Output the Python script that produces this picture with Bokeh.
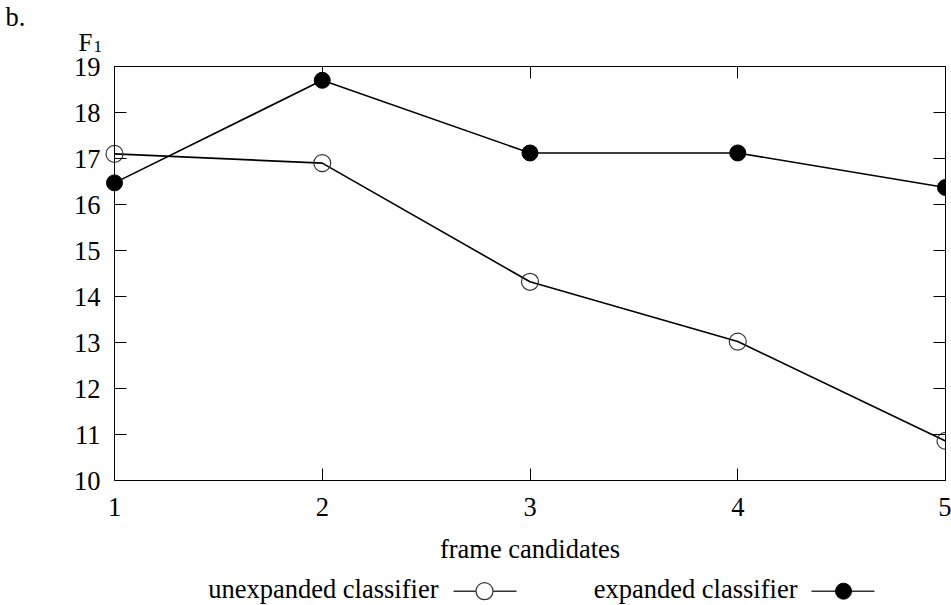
from bokeh.plotting import figure
from bokeh.models import (Range1d, LinearAxis, FixedTicker, CustomLabelingPolicy,
                          CustomJSTickFormatter)
from bokeh.layouts import column
from bokeh.embed import file_html
from bokeh.resources import INLINE

# ---- data ----
frame_candidates = [1, 2, 3, 4, 5]
unexpanded = [17.1, 16.9, 14.32, 13.02, 10.86]
expanded = [16.47, 18.7, 17.12, 17.12, 16.37]
x_ticks = [1, 2, 3, 4, 5]
y_ticks = [10, 11, 12, 13, 14, 15, 16, 17, 18, 19]
series_names = ["unexpanded classifier", "expanded classifier"]
x_title = "frame candidates"
y_title = "F"
y_title_sub = "1"
panel_tag = "b."

FONT = "Liberation Serif"
FS = "26.5px"
W = 951
BASE_FIX = 7  # text glyphs land this many px below the requested baseline

# ---- layout geometry (pixels) ----
MH = 530
box_left, box_right, box_top, box_bottom = 114, 945, 66, 480
frame_left, frame_top = 3, 5

px_per_x = (box_right - box_left) / (x_ticks[-1] - x_ticks[0])
px_per_y = (box_bottom - box_top) / (y_ticks[-1] - y_ticks[0])
x_start = x_ticks[0] - (box_left - frame_left) / px_per_x
y_end = y_ticks[-1] + (box_top - frame_top) / px_per_y

def sx(px):
    return x_ticks[0] + (px - box_left) / px_per_x

def sy(py):
    return y_ticks[0] + (box_bottom - py) / px_per_y

p = figure(width=W, height=MH, x_range=Range1d(x_start, x_ticks[-1]),
           y_range=Range1d(y_ticks[0], y_end),
           output_backend="svg", toolbar_location=None,
           min_border_left=frame_left, min_border_right=W - box_right,
           min_border_top=frame_top, min_border_bottom=MH - box_bottom,
           frame_align=False)
p.grid.visible = False
p.outline_line_color = None
p.background_fill_color = "white"
p.border_fill_color = "white"

xb = p.below[0]   # bottom axis with labels
yl = p.left[0]    # left axis: labels only

no_labels = CustomLabelingPolicy(code="""
for (const i of indices) indices.unset(i)
return indices
""")

xb.ticker = FixedTicker(ticks=x_ticks)
xb.bounds = (x_ticks[0], x_ticks[-1])
yl.ticker = FixedTicker(ticks=y_ticks)
yl.bounds = (y_ticks[0], y_ticks[-1])

la = LinearAxis(ticker=FixedTicker(ticks=y_ticks), fixed_location=x_ticks[0],
                bounds=(y_ticks[0], y_ticks[-1]))
ra = LinearAxis(ticker=FixedTicker(ticks=y_ticks), bounds=(y_ticks[0], y_ticks[-1]))
ta = LinearAxis(ticker=FixedTicker(ticks=x_ticks), fixed_location=y_ticks[-1],
                bounds=(x_ticks[0], x_ticks[-1]))
p.add_layout(la, "left")
p.add_layout(ra, "right")
p.add_layout(ta, "above")

for ax in (xb, yl, la, ra, ta):
    ax.major_tick_in = 12
    ax.major_tick_out = 0
    ax.minor_tick_in = 0
    ax.minor_tick_out = 0
    ax.axis_line_color = "black"
    ax.axis_line_width = 1
    ax.major_tick_line_color = "black"
    ax.major_label_text_font = FONT
    ax.major_label_text_font_size = FS
    ax.major_label_text_color = "black"

for ax in (la, ra, ta):
    ax.major_label_text_font_size = "1px"
    ax.major_label_standoff = 0
    ax.formatter = CustomJSTickFormatter(code="return ''")
    ax.major_label_policy = no_labels

yl.axis_line_color = None
yl.major_tick_line_color = None
yl.major_tick_in = 0
yl.major_label_standoff = frame_left - 100   # labels end at x = 100 px

xb.major_label_standoff = 17

# panel tag and y title (inside the frame, which spans the top-left corner)
p.text(x=[sx(5)], y=[sy(23 - BASE_FIX)], text=[panel_tag], text_font=FONT,
       text_font_size=FS, text_baseline="alphabetic", text_align="left",
       text_color="black")
p.text(x=[sx(78)], y=[sy(49 - BASE_FIX)], text=[y_title], text_font=FONT,
       text_font_size="25px", text_baseline="alphabetic", text_align="left",
       text_color="black")
p.text(x=[sx(93)], y=[sy(53 - BASE_FIX)], text=[y_title_sub], text_font=FONT,
       text_font_size="17px", text_baseline="alphabetic", text_align="left",
       text_color="black")

p.line(frame_candidates, unexpanded, line_color="black", line_width=1.6)
p.scatter(frame_candidates, unexpanded, marker="circle", size=17,
          fill_color=None, line_color="#333333", line_width=1.2)
p.line(frame_candidates, expanded, line_color="black", line_width=1.6)
p.scatter(frame_candidates, expanded, marker="circle", size=16,
          fill_color="black", line_color="black")

# ---- bottom row: x title + legend ----
top_lg = MH
LH = 605 - top_lg
lg = figure(width=W, height=LH, x_range=Range1d(0, W), y_range=Range1d(0, LH),
            output_backend="svg", toolbar_location=None, min_border=0,
            frame_align=False)
lg.axis.visible = False
lg.grid.visible = False
lg.outline_line_color = None

def ly(screen_y):
    return LH - (screen_y - top_lg)

lg.text(x=[(box_left + box_right) / 2], y=[ly(555 - BASE_FIX)], text=[x_title],
        text_font=FONT, text_font_size=FS, text_align="center",
        text_baseline="alphabetic", text_color="black")

text_right = [438, 797]
line_start = [453, 811]
line_end = [516, 874]
marker_x = [484, 843]
line_y = ly(590.7)
text_y = ly(595 - BASE_FIX)

lg.text(x=text_right, y=[text_y, text_y], text=series_names,
        text_font=FONT, text_font_size=FS, text_align="right",
        text_baseline="alphabetic", text_color="black")
lg.segment(x0=line_start, y0=[line_y, line_y], x1=line_end, y1=[line_y, line_y],
           line_color="#333333", line_width=1.4)
lg.scatter(x=[marker_x[0]], y=[line_y], marker="circle", size=17,
           fill_color="white", line_color="#333333", line_width=1.2)
lg.scatter(x=[marker_x[1]], y=[line_y], marker="circle", size=16,
           fill_color="black", line_color="black")

layout = column(p, lg)
open("out.html", "w").write(file_html(layout, INLINE))
